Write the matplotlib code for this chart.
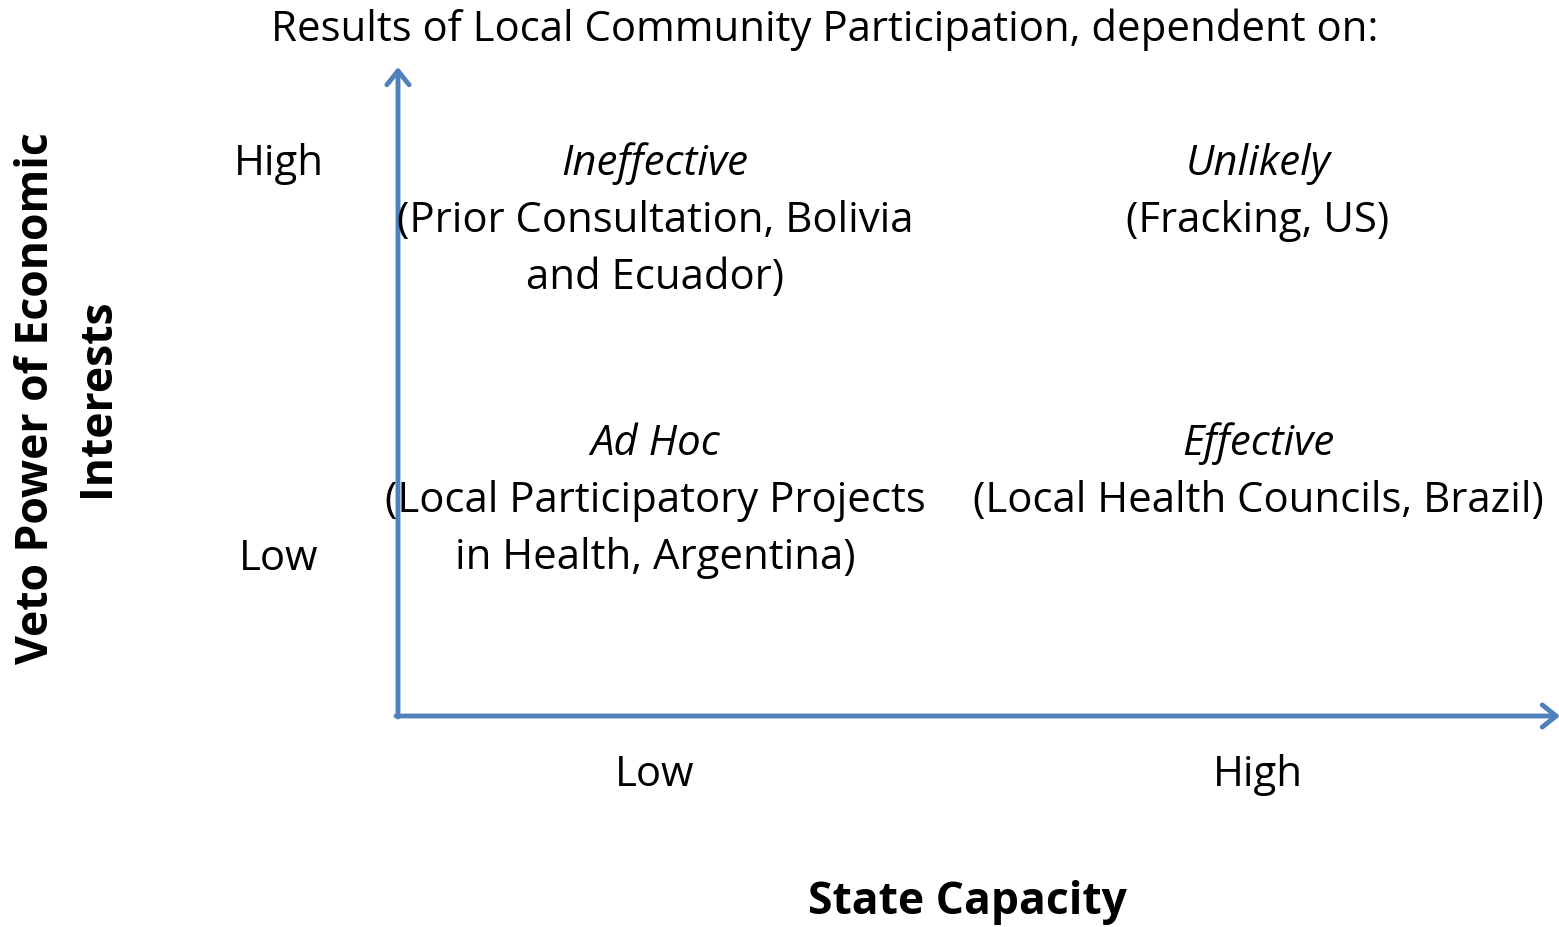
import matplotlib
matplotlib.use("Agg")
import matplotlib.pyplot as plt

plt.rcParams['font.family'] = ['Open Sans', 'DejaVu Sans']

# categories on both axes
levels = ["Low", "High"]
x_pos = {"Low": 0, "High": 1}
y_pos = {"Low": 0, "High": 1}

# quadrant outcomes: (state capacity, veto power, outcome, case lines)
quadrants = [
    ("Low", "High", "Ineffective", ["(Prior Consultation, Bolivia", "and Ecuador)"]),
    ("High", "High", "Unlikely", ["(Fracking, US)"]),
    ("Low", "Low", "Ad Hoc", ["(Local Participatory Projects", "in Health, Argentina)"]),
    ("High", "Low", "Effective", ["(Local Health Councils, Brazil)"]),
]

title = "Results of Local Community Participation, dependent on:"
x_label = "State Capacity"
y_label = "Veto Power of Economic\nInterests"

W, H = 1559, 928
fig = plt.figure(figsize=(W / 100, H / 100), dpi=100)
ax = fig.add_axes([0, 0, 1, 1])
ax.axis("off")

# data coords: Low=0 / High=1 ; px per unit
sx, sy = 603.0, 395.0
ax.set_xlim(-655 / sx, (W - 655) / sx)
ax.set_ylim(-(H - 559) / sy, 559 / sy)

fs = 30.2
fs_bold = 32
line_px = 57
blue = "#4F81BD"

# axis arrows
ox, oy = -257 / sx, -158 / sy
arrow = dict(arrowstyle="->,head_length=1.0,head_width=0.8",
             color=blue, lw=3.5, shrinkA=0, shrinkB=0)
ax.annotate("", xy=(ox, 491 / sy), xytext=(ox, oy - 1 / sy),
            arrowprops=arrow, annotation_clip=False)
ax.annotate("", xy=((W - 655 + 1) / sx, oy), xytext=(ox - 2 / sx, oy),
            arrowprops=arrow, annotation_clip=False)

# tick labels
for lv in levels:
    ax.text(-376 / sx, y_pos[lv], lv, fontsize=fs, ha="center", va="center")
    ax.text(x_pos[lv], -216 / sy, lv, fontsize=fs, ha="center", va="center")

# quadrant text
for xc, yc, outcome, cases in quadrants:
    x = x_pos[xc]
    y = y_pos[yc]
    # low row block ends on the tick line; high row block starts on it
    top = 0 if yc == "High" else line_px * 2 + 1
    ax.annotate(outcome, (x, y), xytext=(0, top * 0.72), textcoords="offset points",
                fontsize=fs, ha="center", va="center", style="italic")
    for i, line in enumerate(cases):
        ax.annotate(line, (x, y), xytext=(0, (top - line_px * (i + 1)) * 0.72),
                    textcoords="offset points", fontsize=fs, ha="center", va="center")

fig.text(825 / W, 1 - 30 / H, title, fontsize=fs, ha="center", va="center")
fig.text(968 / W, 1 - 903 / H, x_label, fontsize=fs_bold, ha="center", va="center",
         fontweight="bold")
fig.text(67 / W, 1 - 398 / H, y_label, fontsize=fs_bold, ha="center", va="center",
         fontweight="bold", rotation=90, linespacing=1.45)

fig.savefig("out.png", dpi=100)
